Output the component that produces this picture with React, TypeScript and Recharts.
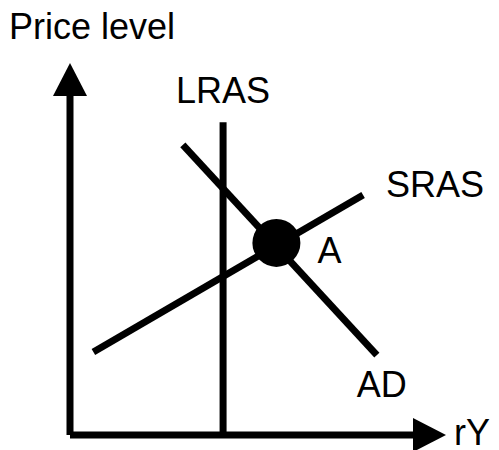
import { ComposedChart, Line, XAxis, YAxis, ReferenceDot, ReferenceLine } from 'recharts';

// curve end points (domain 0..100 on both axes)
const LRAS = [{ x: 44.5, y: 0 }, { x: 44.5, y: 92 }];
const SRAS = [{ x: 6.8, y: 24.4 }, { x: 85.2, y: 70.6 }];
const AD = [{ x: 32.8, y: 85.3 }, { x: 89.2, y: 23.5 }];
const POINT_A = [{ x: 60, y: 56.5 }];
const AXIS_TITLES = ['Price level', 'rY'];
const CURVE_NAMES = ['LRAS', 'SRAS', 'AD', 'A'];

const FONT = '"Liberation Sans", Arial, sans-serif';

const tag = (text: string, dx: number, dy: number, anchor = 'start') => (p: any) => (
  <text x={p.cx + dx} y={p.cy + dy} textAnchor={anchor} fontSize={36} fontFamily={FONT} fill="#000">
    {text}
  </text>
);

const upArrow = (p: any) => (
  <polygon points={`${p.cx - 17},${p.cy + 1} ${p.cx + 17},${p.cy + 1} ${p.cx},${p.cy - 32}`} fill="#000" />
);
const rightArrow = (p: any) => (
  <polygon points={`${p.cx - 1},${p.cy - 17} ${p.cx - 1},${p.cy + 17} ${p.cx + 32},${p.cy}`} fill="#000" />
);

const lineProps = { type: 'linear' as const, dataKey: 'y', stroke: '#000', strokeWidth: 7, dot: false, activeDot: false, isAnimationActive: false };

export default function App() {
  const lrasTop = LRAS[1];
  const srasEnd = SRAS[1];
  const adEnd = AD[1];
  const a = POINT_A[0];
  return (
    <div style={{ position: 'absolute', left: 0, top: 0, background: '#fff' }}>
      <ComposedChart width={499} height={450} margin={{ top: 95, right: 85, bottom: 15, left: 70 }}>
        <XAxis dataKey="x" type="number" domain={[0, 100]} hide />
        <YAxis type="number" domain={[0, 100]} hide />
        <ReferenceLine x={0} stroke="#000" strokeWidth={7} />
        <ReferenceLine y={0} stroke="#000" strokeWidth={7} />
        <Line {...lineProps} data={LRAS} />
        <Line {...lineProps} data={SRAS} />
        <Line {...lineProps} data={AD} />
        <ReferenceDot x={a.x} y={a.y} r={24} fill="#000" stroke="none" />

        <ReferenceDot x={0} y={100} shape={upArrow} />
        <ReferenceDot x={100} y={0} shape={rightArrow} />
        <ReferenceDot x={0} y={100} shape={tag(AXIS_TITLES[0], -61, -56)} />
        <ReferenceDot x={100} y={0} shape={tag(AXIS_TITLES[1], 40, 10)} />

        <ReferenceDot x={lrasTop.x} y={lrasTop.y} shape={tag(CURVE_NAMES[0], 0, -19, 'middle')} />
        <ReferenceDot x={srasEnd.x} y={srasEnd.y} shape={tag(CURVE_NAMES[1], 23, 2)} />
        <ReferenceDot x={adEnd.x} y={adEnd.y} shape={tag(CURVE_NAMES[2], 5, 42, 'middle')} />
        <ReferenceDot x={a.x} y={a.y} shape={tag(CURVE_NAMES[3], 53, 20, 'middle')} />
      </ComposedChart>
    </div>
  );
}
